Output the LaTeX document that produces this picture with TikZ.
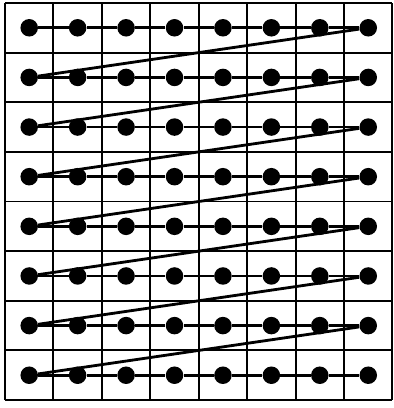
\documentclass[tikz,border=0pt]{standalone}
\usetikzlibrary{positioning}
\tikzset{
  grid-line/.style={draw=black,line width=1.1pt},
  node-dot/.style={circle,fill=black,inner sep=0pt,minimum size=3.5mm},
  scan-line/.style={draw=black,line width=1.6pt},
}
\begin{document}
\begin{tikzpicture}[x=0.968cm,y=0.992cm]
  \useasboundingbox (-0.103,-0.16) rectangle (8.02,8.06);
  \draw[grid-line] (0,0) grid[step=1] (8,8);
  % pixel centres, row 1 at the top
  \foreach \r in {1,...,8}
    \foreach \c in {1,...,8}
      \node[node-dot] (px-\r-\c) at (\c-0.5,8.5-\r) {};
  % raster scan: along each row, then back to the next row
  \foreach \r in {1,...,8}
    \foreach \c/\n in {1/2,2/3,3/4,4/5,5/6,6/7,7/8}
      \draw[scan-line] (px-\r-\c) -- (px-\r-\n);
  \foreach \r/\s in {1/2,2/3,3/4,4/5,5/6,6/7,7/8}
    \draw[scan-line] (px-\r-8) -- (px-\s-1);
\end{tikzpicture}
\end{document}
